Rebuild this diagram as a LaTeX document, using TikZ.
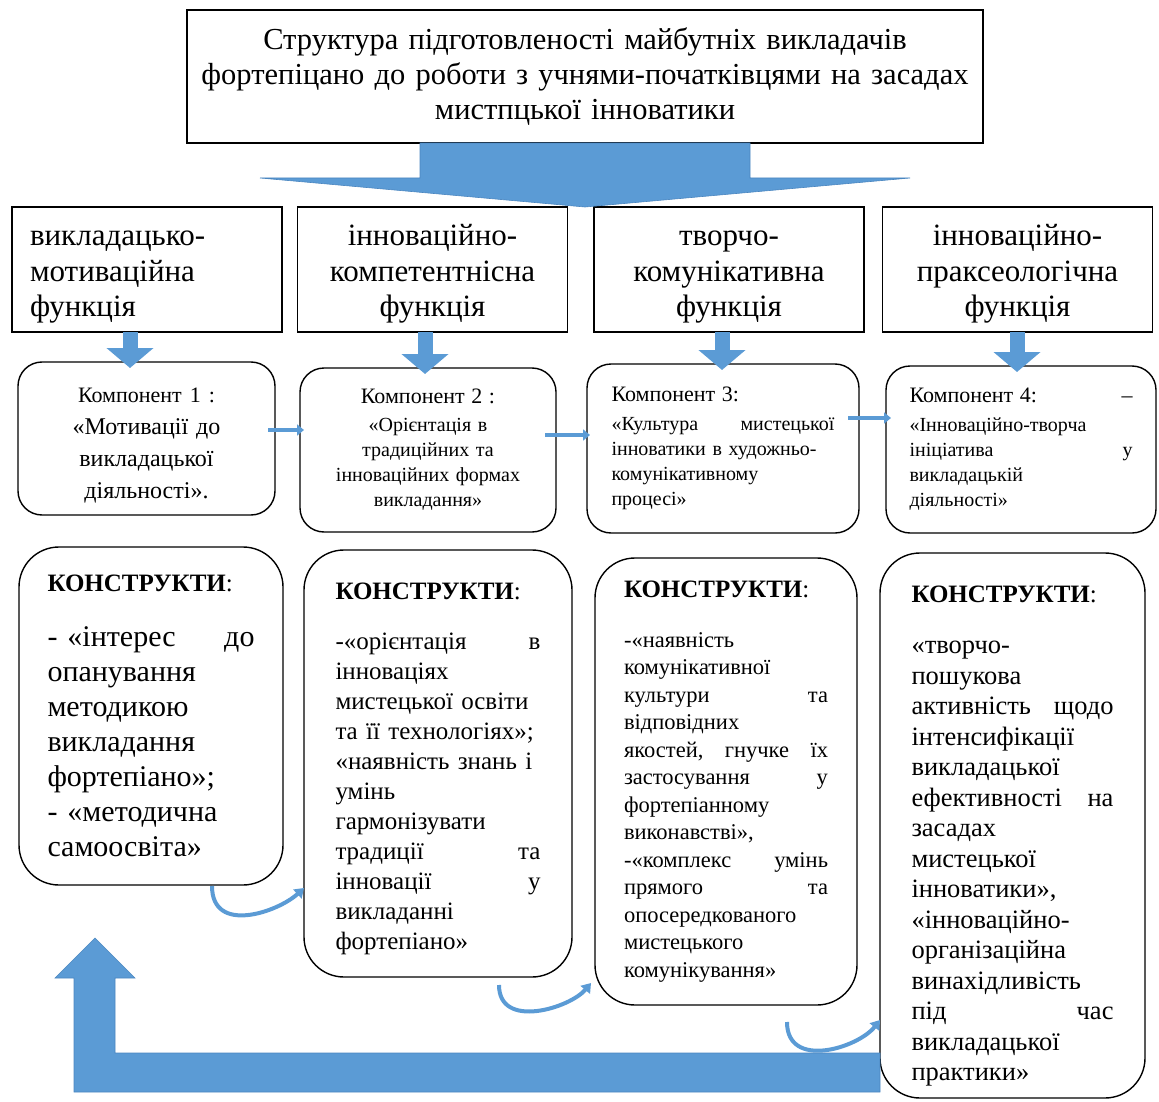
\documentclass[tikz,border=0pt]{standalone}
\usepackage{fontspec}
\setmainfont{Liberation Serif}
\usetikzlibrary{arrows.meta,calc}
\definecolor{arrowblue}{HTML}{5B9BD5}
\definecolor{arrowedge}{HTML}{4A86C0}
\newcommand{\fs}[2]{\fontsize{#1}{#2}\selectfont}

\begin{document}
\begin{tikzpicture}[x=1pt,y=-1pt,
every node/.style={inner sep=0pt,outer sep=0pt},
titlebox/.style={draw,line width=1.6pt,minimum width=796pt,minimum height=133pt,text width=790pt,align=center,font=\fs{30.5}{35}},
funbox/.style={draw,line width=1.6pt,minimum width=270pt,minimum height=125pt,text width=234pt,align=center,font=\fs{31}{35.5}},
compbox/.style={draw,line width=1.4pt,rounded corners=24pt,text width=223pt},
kbox/.style={draw,line width=1.4pt,rounded corners=40pt,align=left},
downarrow/.style={arrowblue,line width=15pt,-{Triangle[width=46pt,length=20pt]}},
linkarrow/.style={arrowblue,line width=4pt,-{Triangle[width=11pt,length=7pt]}},
bendarrow/.style={arrowblue,line width=4pt,-{Triangle[width=12pt,length=9pt]}},
bigarrow/.style={fill=arrowblue,draw=arrowedge,line width=0.6pt}]
\useasboundingbox (0,0) rectangle (1159,1102);

%title
\node[titlebox] (title) at (585,76.5) {Структура підготовленості майбутніх викладачів\\
фортепіцано до роботи з учнями-початківцями на засадах\\
мистпцької інноватики};

%functions
\node[funbox,align=left] (f1) at (147,269.5) {\rule{0pt}{30pt}викладацько-\\мотиваційна\\функція};
\node[funbox] (f2) at (432.5,269.5) {\rule{0pt}{30pt}інноваційно-\\компетентнісна\\функція};
\node[funbox] (f3) at (729,269.5) {\rule{0pt}{30pt}творчо-\\комунікативна\\функція};
\node[funbox] (f4) at (1017.5,269.5) {\rule{0pt}{30pt}інноваційно-\\праксеологічна\\функція};

%components
\node[compbox,minimum width=257pt,minimum height=153pt,align=center,font=\fs{24}{32}] (c1) at (146.5,438.5)
	{{\fs{22}{32}\rule{0pt}{28pt}Компонент 1 :}\\«Мотивації до\\викладацької\\діяльності».};
\node[compbox,minimum width=256pt,minimum height=164pt,align=center,font=\fs{20}{25}] (c2) at (428,450)
	{{\fs{22}{25}Компонент 2 :}\\[3pt]«Орієнтація в\\традиційних та\\інноваційних формах\\викладання»};
\node[compbox,minimum width=272pt,minimum height=169pt,align=left,font=\fs{20}{25}] (c3) at (723,448.5)
	{{\fs{22}{25}Компонент 3:}\\[4pt]«Культура \hfill мистецької\\інноватики в художньо-\\комунікативному\\процесі»};
\node[compbox,minimum width=270pt,minimum height=167pt,align=left,font=\fs{20}{25}] (c4) at (1021,449.5)
	{{\fs{22}{25}Компонент 4: \hfill –}\\[4pt]«Інноваційно-творча\\ініціатива \hfill у\\викладацькій\\діяльності»};

%constructs
\node[kbox,minimum width=264pt,minimum height=338pt,text width=207pt,font=\fs{30}{35}] (k1) at (151,716)
	{{\fs{25}{35}\textbf{КОНСТРУКТИ}:}\\[20pt]- «інтерес \hfill до\\опанування\\методикою\\викладання\\фортепіано»;\\- «методична\\самоосвіта»};
\node[kbox,minimum width=268pt,minimum height=427pt,text width=205pt,font=\fs{25}{30}] (k2) at (438,763.5)
	{{\fs{25}{30}\rule{0pt}{27pt}\textbf{КОНСТРУКТИ}:}\\[20pt]-«орієнтація \hfill в\\інноваціях\\мистецької освіти\\та її технологіях»;\\«наявність знань і\\умінь\\гармонізувати\\традиції \hfill та\\інновації \hfill у\\викладанні\\фортепіано»};
\node[kbox,minimum width=262pt,minimum height=447pt,text width=204pt,font=\fs{22.5}{27.5}] (k3) at (726,781.5)
	{{\fs{25}{27.5}\textbf{КОНСТРУКТИ}:}\\[22pt]-«наявність\\комунікативної\\культури \hfill та\\відповідних\\якостей, \hfill гнучке \hfill їх\\застосування \hfill у\\фортепіанному\\виконавстві»,\\-«комплекс \hfill умінь\\прямого \hfill та\\опосередкованого\\мистецького\\комунікування»};
\node[kbox,minimum width=265pt,minimum height=545pt,text width=202pt,font=\fs{26.5}{30.5}] (k4) at (1012.5,825.5)
	{{\fs{25}{30.5}\rule{0pt}{38pt}\textbf{КОНСТРУКТИ}:}\\[21pt]«творчо-\\пошукова\\активність \hfill щодо\\інтенсифікації\\викладацької\\ефективності \hfill на\\засадах\\мистецької\\інноватики»,\\«інноваційно-\\організаційна\\винахідливість\\під \hfill час\\викладацької\\практики»};

%big arrow under the title
\draw[bigarrow] ([xshift=-165pt]title.south) -- ++(0,35) -- ++(-160,0) -- (title.south |- f2.north)
	-- ++(325,-29) -- ++(-160,0) -- ([xshift=165pt]title.south) -- cycle;

%arrows from functions to components
\draw[downarrow] ([xshift=-17pt]f1.south) -- ([xshift=-16.5pt,yshift=-6pt]c1.north);
\draw[downarrow] ([xshift=-7.5pt]f2.south) -- ([xshift=-3pt,yshift=-6pt]c2.north);
\draw[downarrow] ([xshift=-7pt]f3.south) -- ([xshift=-1pt,yshift=-6pt]c3.north);
\draw[downarrow] ([xshift=-0.5pt]f4.south) -- ([xshift=-4pt,yshift=-6pt]c4.north);

%arrows between components
\draw[linkarrow] ([xshift=-7pt,yshift=8.5pt]c1.east) -- ([xshift=4pt,yshift=20pt]c2.west);
\draw[linkarrow] ([xshift=-11pt,yshift=15pt]c2.east) -- ([xshift=3pt,yshift=13.5pt]c3.west);
\draw[linkarrow] ([xshift=-11pt,yshift=30.5pt]c3.east) -- ([xshift=5pt,yshift=31.5pt]c4.west);

%bent arrows between constructs
\draw[bendarrow] ($(k1.south)+(61,1)$) .. controls (212,935) and (278,912) .. ($(k2.west)+(0,124.5)$);
\draw[bendarrow] ($(k2.south)+(61,8)$) .. controls (499,1030) and (570,1008) .. ($(k3.west)+(-4,201.5)$);
\draw[bendarrow] ($(k3.south)+(61,17)$) .. controls (787,1070) and (858,1048) .. ($(k4.west)+(0,194.5)$);

%feedback arrow
\draw[bigarrow] ($(k4.west)+(0,227.5)$) -- (115,1053) -- (115,978) -- (135,978) -- (95,938)
	-- (55,978) -- (74,978) -- (74,1092) -- ($(k4.west)+(0,266.5)$) -- cycle;
\end{tikzpicture}
\end{document}
